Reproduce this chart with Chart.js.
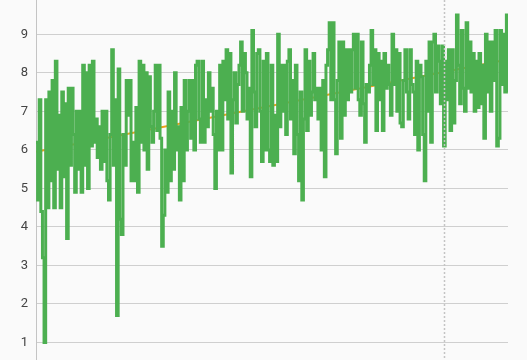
<!DOCTYPE html>
<html>
<head>
<meta charset="utf-8">
<script src="https://cdn.jsdelivr.net/npm/chart.js@4.4.1/dist/chart.umd.min.js"></script>
<style>
    html, body { margin: 0; padding: 0; background: #fafafa; overflow: hidden; }
    #wrap { position: absolute; left: 0; top: -20px; width: 527px; height: 420px; }
</style>
</head>
<body>
<div id="wrap"><canvas id="chart" width="527" height="420"></canvas></div>
<script>
// values, left to right
const seriesValues = [
    6.2, 4.7, 7.3, 4.4, 3.2, 1.0, 7.3, 4.5, 7.5, 5.2, 7.8, 4.5, 8.3, 5.5, 6.9, 4.5,
    7.5, 5.3, 7.2, 3.7, 7.6, 5.6, 7.6, 6.4, 4.9, 7.0, 5.5, 7.0, 4.9, 8.2, 5.6, 8.0,
    5.0, 8.2, 6.1, 8.3, 6.2, 6.8, 5.8, 6.6, 5.5, 7.0, 5.7, 7.0, 5.2, 4.7, 6.4, 8.6,
    5.6, 7.3, 1.7, 8.1, 4.2, 3.8, 6.4, 5.6, 7.8, 6.9, 7.8, 5.2, 6.2, 5.2, 7.1, 4.9,
    8.3, 6.2, 8.2, 6.0, 8.0, 5.5, 7.9, 6.6, 6.2, 7.0, 8.2, 6.5, 8.2, 6.3, 3.5, 4.3,
    6.0, 4.9, 7.5, 5.2, 7.0, 5.5, 8.0, 6.0, 6.6, 4.7, 7.1, 5.2, 7.8, 6.0, 7.0, 7.8,
    6.3, 7.8,
    6.0, 8.2, 8.3, 6.8, 6.2, 8.3, 6.2, 7.3, 6.6, 8.0, 7.0, 7.6, 6.4, 5.0, 7.0, 6.0,
    8.2, 6.0, 8.3, 7.3, 8.6, 6.8, 8.5, 5.4, 7.3, 8.0, 6.7, 7.7, 8.2, 8.8, 7.0, 8.5,
    8.0, 6.8, 7.6, 5.3, 9.1, 7.5, 6.6, 8.5, 8.6, 7.0, 5.7, 8.3, 6.0, 8.5, 6.0, 5.7,
    8.2,
    5.6, 6.9, 5.7, 9.0, 6.6, 8.2, 7.0, 8.2, 6.4, 8.3, 8.6, 6.8, 7.8, 5.9, 8.2, 6.4,
    5.2, 7.5, 4.7, 6.8, 8.6, 6.5, 8.3, 6.9, 7.5, 8.5, 7.3, 7.6, 6.8, 7.6, 6.0, 7.8,
    5.3, 8.2, 8.6, 9.3, 7.3, 9.3, 7.3, 5.9, 7.8, 8.8, 6.3, 8.8, 6.9, 8.6, 7.3, 8.6,
    7.5, 8.6,
    9.0, 7.6, 9.0, 7.3, 6.9, 8.8, 7.2, 6.2, 7.7, 7.5, 8.2, 9.1, 7.7, 8.6, 6.5, 8.5,
    7.3, 8.3, 6.5, 8.5, 7.6, 8.2, 7.7, 6.9, 9.0, 7.7, 8.6, 7.0, 8.5, 6.7, 6.6, 7.8,
    8.6, 7.5, 6.8, 8.6, 7.7, 7.5, 6.4, 8.3, 6.0, 8.2, 7.9, 6.4, 5.2, 8.3, 7.0, 8.8,
    6.2, 8.8, 9.0, 7.5, 8.7, 8.3, 7.2, 8.7, 6.1, 8.3, 7.3, 8.6, 6.5, 8.6, 6.7, 7.8,
    9.5, 8.2, 7.2, 9.1, 7.6, 7.0, 9.3, 7.6, 8.8, 7.5, 8.5, 7.0, 8.3, 7.1, 8.5, 7.2,
    8.2, 6.3, 9.0, 7.5, 8.8, 7.0, 8.8, 7.8, 9.1, 6.1, 6.3, 9.1, 7.7, 9.0, 7.5, 9.5,
    7.5
];
const trendValues = [5.95, 8.35];   // trend line at first and last point
const markerIndex = 253;            // dotted vertical marker
const yTicks = [1, 2, 3, 4, 5, 6, 7, 8, 9, 10];

const lastIndex = seriesValues.length - 1;

const markerLine = {
    id: "markerLine",
    afterDatasetsDraw(chart) {
        const { ctx, scales } = chart;
        const x = Math.round(scales.x.getPixelForValue(markerIndex)) + 0.5;
        ctx.save();
        ctx.strokeStyle = "#c4c4c4";
        ctx.lineWidth = 1.5;
        ctx.setLineDash([2, 2]);
        ctx.beginPath();
        ctx.moveTo(x, 0);
        ctx.lineTo(x, chart.height);
        ctx.stroke();
        ctx.restore();
    }
};

new Chart(document.getElementById("chart"), {
    type: "line",
    data: {
        datasets: [{
            data: seriesValues.map((v, i) => ({ x: i, y: v })),
            borderColor: "#4caf50",
            borderWidth: 3,
            pointRadius: 0,
            stepped: true,
            borderJoinStyle: "miter"
        }, {
            data: [{ x: 0, y: trendValues[0] }, { x: lastIndex, y: trendValues[1] }],
            borderColor: "#eda01c",
            borderWidth: 2,
            pointRadius: 0
        }]
    },
    options: {
        responsive: false,
        animation: false,
        layout: { padding: { top: 15, right: 19, bottom: 19, left: 0 } },
        plugins: { legend: { display: false }, tooltip: { enabled: false } },
        scales: {
            x: { type: "linear", min: 0, max: lastIndex, display: false },
            y: {
                min: 0,
                max: 10,
                afterFit: scale => { scale.width = 36; },
                afterBuildTicks: scale => { scale.ticks = yTicks.map(v => ({ value: v })); },
                grid: { color: "#cfcfcf", lineWidth: 1, drawTicks: false },
                border: { color: "#c4c4c4", width: 1 },
                ticks: {
                    padding: 8,
                    color: "#444",
                    font: { family: "Roboto", size: 13 }
                }
            }
        }
    },
    plugins: [markerLine]
});
</script>
</body>
</html>
